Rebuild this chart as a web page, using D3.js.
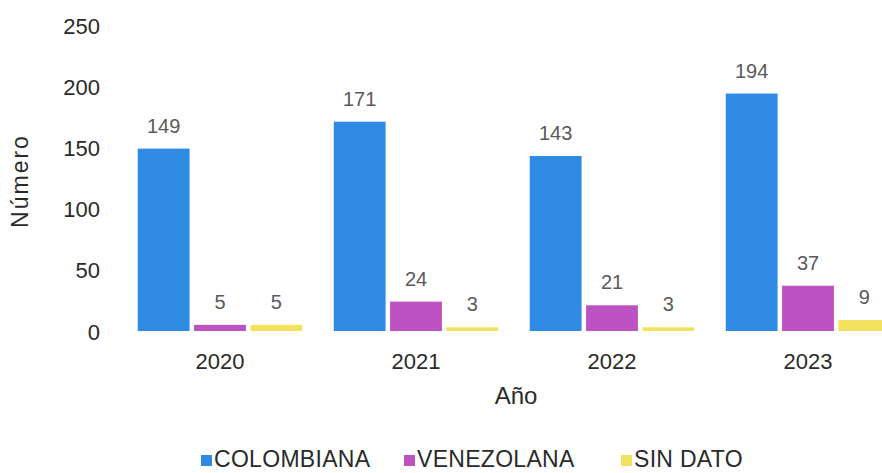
<!DOCTYPE html>
<html>
<head>
<meta charset="utf-8">
<script src="https://cdn.jsdelivr.net/npm/d3@7"></script>
<style>
  html, body { margin: 0; padding: 0; background: #fff; }
  svg { display: block; font-family: "Liberation Sans", Arial, sans-serif; }
</style>
</head>
<body>
<svg id="chart" width="882" height="473"></svg>
<script>
const years = ["2020", "2021", "2022", "2023"];
const seriesNames = ["COLOMBIANA", "VENEZOLANA", "SIN DATO"];
const colombiana = [149, 171, 143, 194];
const venezolana = [5, 24, 21, 37];
const sinDato = [5, 3, 3, 9];
const yTicks = [0, 50, 100, 150, 200, 250];
const colors = ["#2f8ae4", "#bd52c2", "#f2e25e"];

const seriesValues = [colombiana, venezolana, sinDato];
const rows = years.map((y, i) => ({
  year: y,
  values: seriesNames.map((s, k) => ({ key: s, value: seriesValues[k][i], k }))
}));

const svg = d3.select("#chart");

const x0 = d3.scaleBand().domain(years).range([122, 906]).padding(0);
const x1 = d3.scaleBand().domain(seriesNames).range([0, x0.bandwidth()])
  .paddingInner(0.08).paddingOuter(0.28);
const y = d3.scaleLinear().domain([0, 250]).range([331, 25]);

// y tick labels
svg.append("g").selectAll("text").data(yTicks).join("text")
  .attr("x", 100).attr("y", d => y(d) + 1)
  .attr("text-anchor", "end").attr("dominant-baseline", "central")
  .attr("font-size", 22).attr("fill", "#2a2a2a")
  .text(d => d);

// bars
const g = svg.append("g").selectAll("g").data(rows).join("g")
  .attr("transform", d => `translate(${x0(d.year)},0)`);

g.selectAll("rect").data(d => d.values).join("rect")
  .attr("x", d => x1(d.key)).attr("width", x1.bandwidth())
  .attr("y", d => y(d.value)).attr("height", d => y(0) - y(d.value))
  .attr("fill", d => colors[d.k]);

g.selectAll("text.val").data(d => d.values).join("text")
  .attr("class", "val")
  .attr("x", d => x1(d.key) + x1.bandwidth() / 2)
  .attr("y", d => y(d.value) - 16)
  .attr("text-anchor", "middle")
  .attr("font-size", 20).attr("fill", "#5a5a5a")
  .text(d => d.value);

// category labels
svg.append("g").selectAll("text").data(years).join("text")
  .attr("x", d => x0(d) + x0.bandwidth() / 2).attr("y", 369)
  .attr("text-anchor", "middle").attr("font-size", 22).attr("fill", "#2a2a2a")
  .text(d => d);

// axis titles
svg.append("text").attr("x", 516).attr("y", 404)
  .attr("text-anchor", "middle").attr("font-size", 24).attr("fill", "#2a2a2a")
  .text("Año");
svg.append("text").attr("transform", "translate(28,181) rotate(-90)")
  .attr("text-anchor", "middle").attr("font-size", 23).attr("fill", "#2a2a2a")
  .attr("letter-spacing", 2)
  .text("Número");

// legend
const legendX = [214, 417, 634];
const lg = svg.append("g").selectAll("g").data(seriesNames).join("g")
  .attr("transform", (d, i) => `translate(${legendX[i]},0)`);
lg.append("rect").attr("x", -13).attr("y", 455).attr("width", 11).attr("height", 11)
  .attr("fill", (d, i) => colors[i]);
lg.append("text").attr("x", 0).attr("y", 467)
  .attr("font-size", 23).attr("letter-spacing", 0.3).attr("fill", "#2a2a2a")
  .text(d => d);
</script>
</body>
</html>
